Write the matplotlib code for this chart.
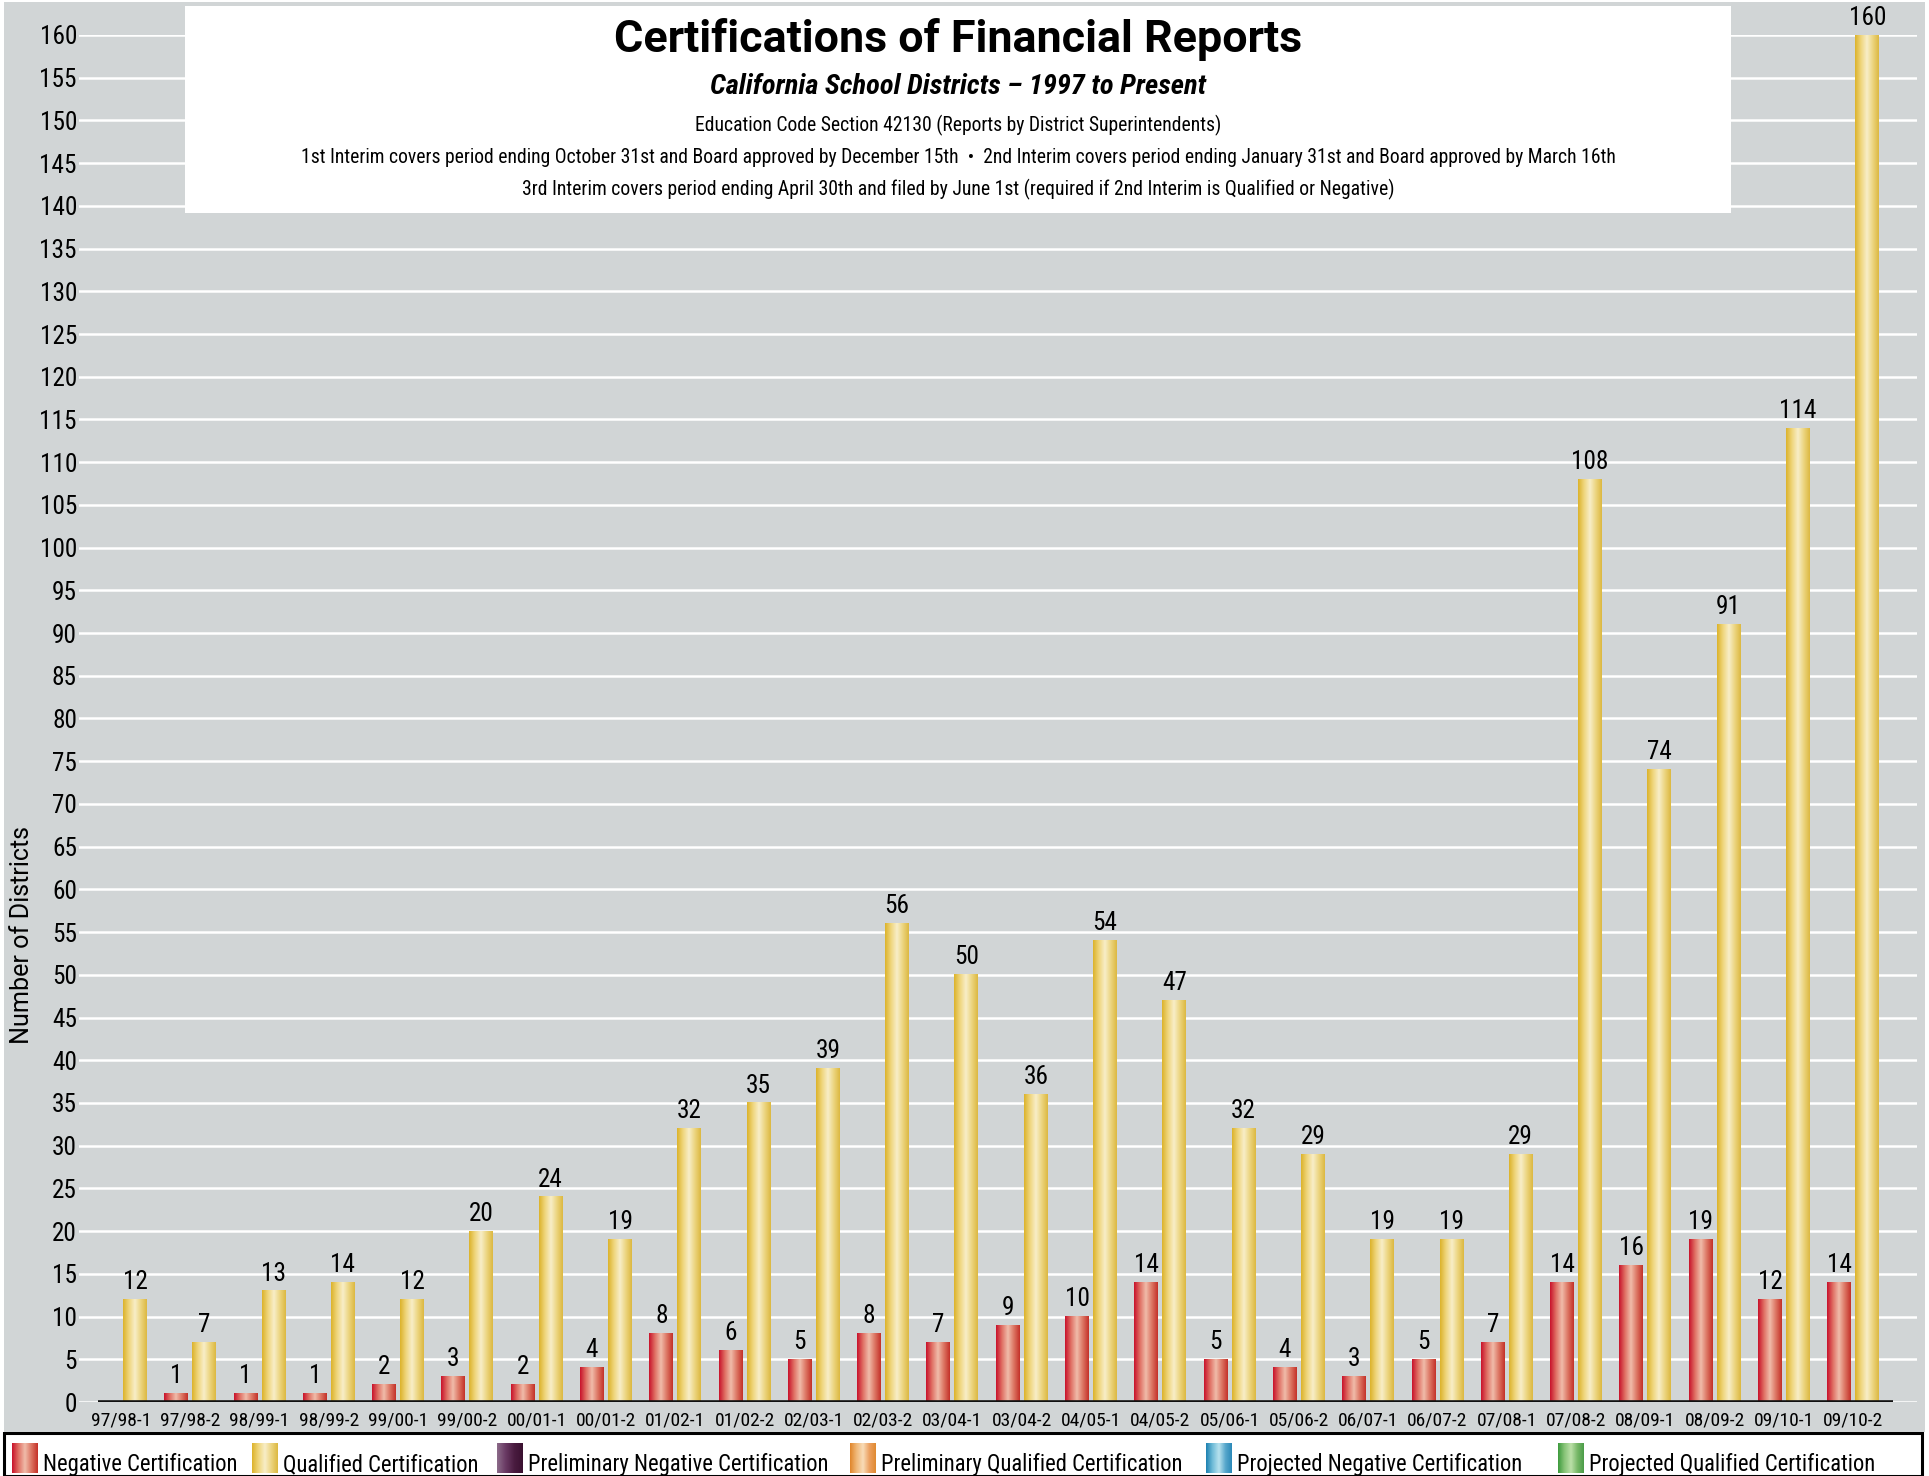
import os
import numpy as np
import matplotlib
matplotlib.use("Agg")
from matplotlib import pyplot as plt
from matplotlib import font_manager
from matplotlib.font_manager import FontProperties
from matplotlib.colors import LinearSegmentedColormap
from matplotlib.patches import Rectangle

# ---- data ----
periods = ["97/98-1", "97/98-2", "98/99-1", "98/99-2", "99/00-1", "99/00-2",
           "00/01-1", "00/01-2", "01/02-1", "01/02-2", "02/03-1", "02/03-2",
           "03/04-1", "03/04-2", "04/05-1", "04/05-2", "05/06-1", "05/06-2",
           "06/07-1", "06/07-2", "07/08-1", "07/08-2", "08/09-1", "08/09-2",
           "09/10-1", "09/10-2"]
negative = [0, 1, 1, 1, 2, 3, 2, 4, 8, 6, 5, 8, 7, 9, 10, 14, 5, 4, 3, 5, 7,
            14, 16, 19, 12, 14]
qualified = [12, 7, 13, 14, 12, 20, 24, 19, 32, 35, 39, 56, 50, 36, 54, 47,
             32, 29, 19, 19, 29, 108, 74, 91, 114, 160]
legend_labels = ["Negative Certification", "Qualified Certification",
                 "Preliminary Negative Certification",
                 "Preliminary Qualified Certification",
                 "Projected Negative Certification",
                 "Projected Qualified Certification"]
legend_keys = ["red", "yellow", "purple", "orange", "blue", "green"]


# ---- fonts: look for a condensed face (the original uses a condensed sans) ----
def wnum(w):
    if isinstance(w, (int, float)):
        return w
    return font_manager.weight_dict.get(w, 400)


def pick_condensed(bold=False, italic=False):
    prefs = ["roboto condensed", "open sans condensed", "noto sans",
             "dejavu sans", "liberation sans narrow"]
    best, best_score = None, None
    for f in font_manager.fontManager.ttflist:
        tag = (os.path.basename(f.fname) + " " + f.name).lower()
        if not ("condensed" in tag or "narrow" in tag):
            continue
        if "mono" in tag:
            continue
        extra = any(k in tag for k in ("extra", "ultra", "semi"))
        it = ("italic" in str(f.style)) or ("oblique" in str(f.style))
        fam = next((i for i, p in enumerate(prefs) if p in tag), len(prefs))
        score = (fam, extra, abs(wnum(f.weight) - (700 if bold else 400)),
                 it != italic)
        if best_score is None or score < best_score:
            best, best_score = f.fname, score
    if best:
        return FontProperties(fname=best)
    return FontProperties(family=["DejaVu Sans"],
                          weight="bold" if bold else "normal",
                          style="italic" if italic else "normal")


F_REG = pick_condensed()
F_BI = pick_condensed(bold=True, italic=True)
F_TITLE = FontProperties(family=["Roboto", "DejaVu Sans"], weight="bold")
F_PLAIN = FontProperties(family=["Roboto", "DejaVu Sans"])

# ---- gradients ----
cmaps = {
    "red": LinearSegmentedColormap.from_list("red", ["#c8102a", "#e07064", "#f0bcaa", "#dc7462", "#c43028"]),
    "yellow": LinearSegmentedColormap.from_list("yel", ["#dcb22a", "#efd67c", "#f8eec8", "#ecd47e", "#dcb840"]),
    "purple": LinearSegmentedColormap.from_list("pur", ["#8c6c8a", "#6a3a64", "#4a1c40", "#3a1030"]),
    "orange": LinearSegmentedColormap.from_list("ora", ["#e0852a", "#f0b878", "#f8dcb8", "#eca060", "#e08a30"]),
    "blue": LinearSegmentedColormap.from_list("blu", ["#1c80b0", "#70bcd8", "#b8e2ee", "#58a8cc", "#2a88b8"]),
    "green": LinearSegmentedColormap.from_list("gre", ["#3c9a3c", "#88c478", "#bce0a8", "#78b868", "#4a9c48"]),
}
grad = np.linspace(0, 1, 256).reshape(1, -1)

W, H = 1929, 1476
fig = plt.figure(figsize=(W / 100, H / 100), dpi=100)
fig.patch.set_facecolor("white")
renderer = fig.canvas.get_renderer()


def size_for(sample, prop, target_px, cap=None):
    t = fig.text(0, 0, sample, fontproperties=prop, fontsize=20)
    w = t.get_window_extent(renderer).width
    t.remove()
    s = 20 * target_px / w
    if cap is not None:
        s = min(s, cap)
    return s


def fit(t, target_px, vertical=False):
    bb = t.get_window_extent(renderer)
    cur = bb.height if vertical else bb.width
    t.set_fontsize(t.get_fontsize() * target_px / cur)


# gray background
fig.add_artist(Rectangle((4 / W, 1 - 1432 / H), 1921 / W, 1430 / H,
                         transform=fig.transFigure, facecolor="#d1d5d6",
                         edgecolor="none", zorder=0))

ax = fig.add_axes([79 / W, 1 - 1402 / H, (1917 - 79) / W, (1402 - 35) / H])
ax.set_facecolor("none")
for s in ax.spines.values():
    s.set_visible(False)

x = np.arange(len(periods))
bw = 0.346
gap = 0.058
neg_bars = ax.bar(x - (bw + gap) / 2, negative, bw, color="none", zorder=3)
qual_bars = ax.bar(x + (bw + gap) / 2, qualified, bw, color="none", zorder=3)

num_size = 18.2   # digits about 18 px tall
for bars, cm in ((neg_bars, cmaps["red"]), (qual_bars, cmaps["yellow"])):
    for p in bars:
        h = p.get_height()
        if h <= 0:
            continue
        x0 = p.get_x()
        ax.imshow(grad, cmap=cm, extent=(x0, x0 + p.get_width(), 0, h),
                  aspect="auto", zorder=3, interpolation="bilinear")
        ax.annotate(str(int(h)), (x0 + p.get_width() / 2, h), xytext=(0, 7.5),
                    textcoords="offset points", ha="center", va="baseline",
                    fontproperties=F_REG, fontsize=num_size,
                    annotation_clip=False)

ax.set_xlim(-0.606, len(periods) - 1 + 0.92)
ax.set_ylim(0, 160)
ax.set_yticks(np.arange(0, 161, 5))
ax.grid(axis="y", color="white", lw=1.8, zorder=1)
ax.set_axisbelow(True)
ax.hlines(0, -0.33, len(periods) - 1 + 0.58, color="#111111", lw=2.6, zorder=4)
ax.set_xticks(x)
ax.set_xticklabels(periods)
ax.tick_params(axis="both", length=0)
ax.tick_params(axis="x", pad=7)
ax.tick_params(axis="y", pad=1.5)
xt_size = size_for("97/98-1", F_REG, 60, cap=17.2)
for lb in ax.get_xticklabels():
    lb.set_fontproperties(F_REG)
    lb.set_fontsize(xt_size)
for lb in ax.get_yticklabels():
    lb.set_fontproperties(F_REG)
    lb.set_fontsize(num_size)

yl = fig.text(22 / W, 1 - 935 / H, "Number of Districts", rotation=90,
              ha="center", va="center", fontproperties=F_PLAIN, fontsize=15)
fit(yl, 219, vertical=True)

# title box
fig.add_artist(Rectangle((185 / W, 1 - 213 / H), (1731 - 185) / W, 207 / H,
                         transform=fig.transFigure, facecolor="white",
                         edgecolor="none", zorder=5))
cx = 958 / W
t1 = fig.text(cx, 1 - 52 / H, "Certifications of Financial Reports", ha="center",
              va="baseline", fontproperties=F_TITLE, fontsize=30, zorder=6)
fit(t1, 689)
t2 = fig.text(cx, 1 - 94 / H, "California School Districts \u2013 1997 to Present",
              ha="center", va="baseline", fontproperties=F_BI, fontsize=20, zorder=6)
fit(t2, 495)
t3 = fig.text(cx, 1 - 131 / H,
              "Education Code Section 42130 (Reports by District Superintendents)",
              ha="center", va="baseline", fontproperties=F_REG, fontsize=14, zorder=6)
fit(t3, 529)
t4 = fig.text(cx, 1 - 163 / H,
              "1st Interim covers period ending October 31st and Board approved by December 15th  \u2022  "
              "2nd Interim covers period ending January 31st and Board approved by March 16th",
              ha="center", va="baseline", fontproperties=F_REG, fontsize=14, zorder=6)
fit(t4, 1324)
t5 = fig.text(cx, 1 - 195 / H,
              "3rd Interim covers period ending April 30th and filed by June 1st "
              "(required if 2nd Interim is Qualified or Negative)",
              ha="center", va="baseline", fontproperties=F_REG, fontsize=14, zorder=6)
fit(t5, 878)

# legend strip
lax = fig.add_axes([0, 0, 1, 44 / H])
lax.set_axis_off()
lax.add_patch(Rectangle((4, 0.5), 1918, 42.5, facecolor="white",
                        edgecolor="black", lw=2.2, zorder=1))
sw_x = [12, 252, 497, 850, 1206, 1558]
leg_size = size_for("Preliminary Negative Certification", F_REG, 300, cap=20.3)
for lbl, key, sx in zip(legend_labels, legend_keys, sw_x):
    lax.imshow(grad, cmap=cmaps[key], extent=(sx, sx + 26, 3, 33),
               aspect="auto", interpolation="bilinear", zorder=2)
    lax.text(sx + 31, 5, lbl, ha="left", va="baseline",
             fontproperties=F_REG, fontsize=leg_size, zorder=3)
lax.set_xlim(0, W)
lax.set_ylim(0, 44)

fig.savefig("out.png", dpi=100)
